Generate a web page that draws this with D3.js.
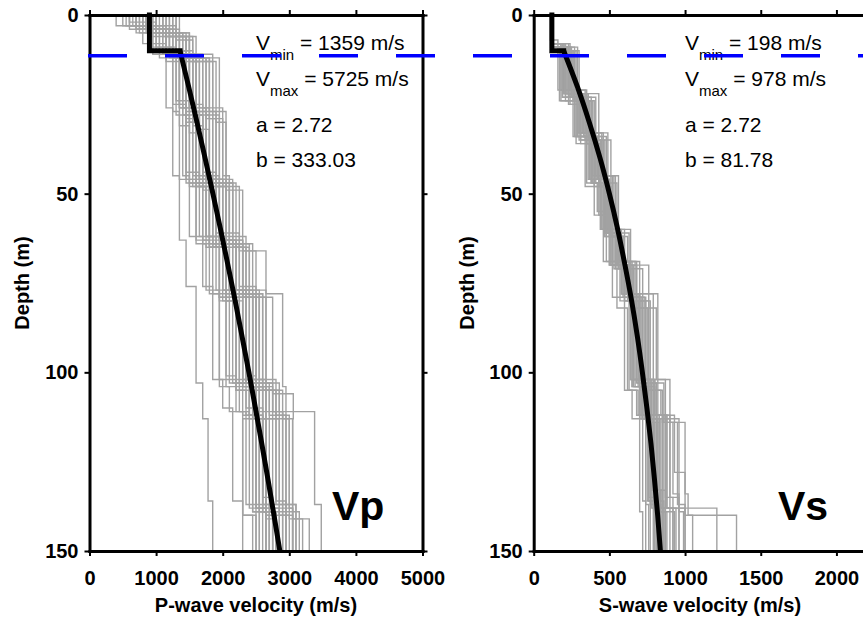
<!DOCTYPE html>
<html><head><meta charset="utf-8">
<script src="https://cdn.jsdelivr.net/npm/d3@7"></script>
<style>
html,body{margin:0;padding:0;background:#fff;}
svg{display:block;font-family:"Liberation Sans",Arial,Helvetica,sans-serif;}
</style></head><body>
<svg id="chart" width="863" height="617"></svg>
<script>
// Tick values
const depthTicks = [0, 50, 100, 150];
const vpTicks = [0, 1000, 2000, 3000, 4000, 5000];
const vsTicks = [0, 500, 1000, 1500, 2000];

// Individual inverted profiles: each layer is [top depth (m), velocity (m/s)]
const vpProfiles = [
  [[0,700],[4,1100],[11,1450],[27,1600],[47,1850],[64,2050],[78,2300],[104,2500],[137,2700]],
  [[0,900],[6,1300],[12,1350],[31,1500],[48,1750],[65,1950],[80,2200],[103,2400],[112,2600],[139,2800]],
  [[0,1100],[5,1400],[11,1700],[26,1800],[46,2000],[63,2200],[77,2450],[105,2650],[140,2950]],
  [[0,500],[3,950],[10,1250],[25,1400],[45,1500],[62,1700],[76,1850],[102,2000],[110,2150],[136,2300]],
  [[0,1300],[7,1550],[13,1900],[30,2050],[49,2300],[66,2500],[79,2750],[106,3060],[113,3050],[141,3200]],
  [[0,800],[4,1200],[12,1550],[28,1700],[47,1950],[64,2150],[78,2400],[104,2600],[138,2850]],
  [[0,600],[2,1000],[9,1300],[24,1500],[33,1650],[48,1800],[65,2050],[80,2300],[104,2550],[112,2450],[139,2650]],
  [[0,1000],[5,1350],[11,1600],[27,1750],[46,2050],[63,2300],[77,2550],[103,2750],[111,2900],[137,3100]],
  [[0,400],[3,800],[8,1150],[26,1250],[45,1350],[63,1450],[76,1600],[103,1700],[113,1780],[136,1850]],
  [[0,1200],[6,1450],[12,1800],[29,2000],[47,2150],[64,2400],[78,2600],[105,2800],[112,2950],[140,3050]],
  [[0,750],[5,1150],[11,1400],[26,1550],[31,1700],[49,1900],[65,2100],[79,2350],[103,2550],[138,2750]],
  [[0,950],[4,1250],[12,1500],[27,1650],[46,1900],[63,2100],[77,2300],[102,2450],[113,2600],[139,2800]],
  [[0,650],[3,1050],[10,1350],[25,1450],[44,1650],[62,1850],[78,2050],[101,2200],[111,2350],[137,2500]],
  [[0,1150],[6,1500],[13,1850],[28,1950],[48,2250],[66,2650],[78,2900],[104,2950],[111,3380],[137,3480]],
  [[0,850],[5,1250],[11,1500],[30,1600],[47,1800],[64,2000],[77,2200],[105,2350],[112,2500],[138,2650]],
  [[0,1050],[4,1350],[12,1650],[26,1850],[46,2100],[65,2350],[79,2500],[103,2700],[112,2850],[139,3050]],
  [[0,550],[3,900],[9,1250],[27,1350],[46,1600],[64,1750],[77,1950],[104,2100],[111,2300],[140,2450]],
  [[0,1250],[5,1500],[12,1750],[29,1900],[48,2100],[63,2300],[78,2550],[102,2800],[113,3000],[141,3300]],
  [[0,900],[4,1200],[10,1450],[26,1600],[32,1750],[47,2000],[64,2200],[77,2400],[104,2650],[137,2900]],
  [[0,700],[5,1100],[11,1400],[28,1550],[45,1750],[62,1950],[79,2150],[103,2400],[112,2500],[138,2600]],
  [[0,1350],[6,1600],[12,1950],[27,2050],[47,2200],[64,2450],[77,2650],[105,2900],[113,3050],[139,3150]],
  [[0,800],[3,1150],[11,1500],[26,1650],[46,1850],[65,2050],[78,2250],[102,2500],[111,2650],[140,2700]],
  [[0,1000],[4,1300],[12,1600],[28,1800],[48,1950],[63,2200],[77,2450],[104,2600],[113,2750],[138,2950]],
  [[0,600],[4,1000],[10,1350],[26,1450],[46,1700],[64,1950],[79,2100],[103,2300],[112,2450],[139,2550]],
  [[0,1100],[5,1450],[12,1700],[27,1900],[47,2050],[62,2350],[78,2550],[105,2750],[111,2900],[140,3000]],
  [[0,750],[4,1150],[11,1450],[30,1600],[48,1800],[65,2000],[77,2350],[102,2600],[113,2800],[137,3100]],
  [[0,1200],[5,1400],[13,1650],[26,1750],[46,2000],[64,2250],[78,2450],[104,2700],[112,2700],[139,2850]],
  [[0,850],[4,1200],[11,1550],[28,1700],[45,1950],[63,2150],[79,2350],[103,2550],[113,2650],[141,2800]],
  [[0,950],[3,1300],[12,1600],[25,1700],[44,1900],[61,2250],[76,2500],[101,2350],[110,2600],[135,2750]],
  [[0,1150],[5,1350],[10,1550],[27,1650],[32,1800],[46,2150],[65,2300],[79,2650],[103,2850],[112,3000],[138,3050]],
  [[0,700],[4,1050],[12,1300],[28,1500],[47,1700],[63,1900],[77,2050],[104,2450],[113,2300],[140,2500]],
  [[0,1300],[6,1550],[11,1850],[26,2000],[45,2100],[64,2300],[78,2450],[102,2650],[111,2800],[136,2950]],
  [[0,850],[4,1150],[13,1450],[29,1550],[48,1750],[62,2000],[80,2200],[105,2400],[113,2550],[139,2700]],
  [[0,1000],[5,1250],[11,1550],[27,1700],[46,1850],[65,2100],[77,2300],[103,2500],[112,2600],[137,2650]],
  [[0,600],[3,950],[11,1350],[26,1450],[47,1600],[63,1800],[78,1950],[102,2250],[111,2400],[138,2550]],
  [[0,1100],[6,1450],[12,1750],[28,1850],[48,2050],[64,2300],[79,2500],[104,2750],[113,2850],[140,2900]],
  [[0,800],[4,1150],[10,1500],[25,1600],[46,1800],[62,2050],[77,2250],[103,2450],[112,2550],[139,2750]],
  [[0,1250],[5,1500],[12,1800],[27,1950],[47,2150],[65,2400],[78,2600],[105,2850],[111,2950],[138,3050]]
];

const vsProfiles = [
  [[0,120],[9,220],[22,330],[34,420],[46,480],[61,560],[70,620],[78,700],[102,760],[112,820],[133,870]],
  [[0,115],[8,180],[24,290],[33,380],[47,450],[60,520],[69,600],[80,660],[104,720],[113,780],[138,820]],
  [[0,125],[10,260],[23,380],[35,460],[45,520],[62,600],[70,680],[78,760],[102,820],[112,900],[135,960]],
  [[0,110],[7,160],[21,260],[34,340],[48,400],[56,460],[69,520],[79,600],[105,650],[113,700],[139,720]],
  [[0,120],[9,240],[25,350],[33,450],[46,500],[61,570],[70,640],[82,720],[103,780],[112,850],[138,1000]],
  [[0,118],[8,200],[22,310],[35,400],[47,470],[60,540],[71,610],[78,680],[102,740],[114,800],[133,850]],
  [[0,122],[10,280],[24,400],[34,480],[45,540],[62,620],[69,700],[80,760],[105,840],[112,930],[128,1000],[140,1050]],
  [[0,115],[9,190],[23,280],[36,360],[46,430],[56,500],[70,580],[78,640],[102,700],[113,760],[136,800]],
  [[0,120],[8,230],[21,340],[33,430],[47,490],[61,560],[69,650],[79,730],[104,800],[112,880],[138,1210]],
  [[0,125],[10,300],[22,430],[35,510],[45,560],[60,640],[70,760],[78,820],[102,900],[114,1000],[134,1020],[140,1340]],
  [[0,112],[9,170],[24,270],[34,350],[47,420],[55,480],[69,550],[82,620],[105,680],[112,740],[137,760]],
  [[0,120],[8,210],[23,320],[33,410],[45,470],[62,550],[70,620],[78,700],[103,760],[113,820],[139,880]],
  [[0,118],[9,250],[22,360],[36,440],[48,510],[60,580],[71,660],[80,740],[102,800],[112,870],[135,920]],
  [[0,124],[10,230],[25,330],[34,420],[46,490],[61,560],[69,630],[78,690],[104,750],[113,810],[136,860]],
  [[0,116],[8,190],[21,300],[33,390],[47,460],[56,520],[70,590],[79,660],[102,720],[112,790],[138,830]],
  [[0,121],[9,270],[24,390],[35,470],[45,530],[60,600],[69,680],[80,770],[105,850],[114,950],[137,1000]],
  [[0,119],[10,210],[22,310],[34,400],[48,470],[62,540],[70,610],[78,680],[103,730],[112,780],[133,840]],
  [[0,117],[8,240],[23,350],[36,430],[46,500],[61,570],[71,640],[79,710],[102,780],[113,840],[138,900]],
  [[0,123],[9,200],[22,300],[33,380],[47,440],[60,510],[70,580],[78,650],[104,710],[112,770],[137,810]],
  [[0,120],[10,260],[24,370],[35,450],[45,510],[62,590],[69,670],[82,810],[102,870],[113,960],[139,990]],
  [[0,114],[8,180],[21,280],[34,370],[46,440],[55,500],[70,570],[80,630],[105,690],[112,720],[136,740]],
  [[0,126],[9,290],[23,410],[33,490],[47,550],[61,630],[71,720],[78,790],[103,860],[114,920],[134,960]],
  [[0,120],[9,220],[22,340],[35,420],[46,480],[60,550],[70,630],[79,700],[102,760],[112,830],[138,870]],
  [[0,118],[8,210],[24,320],[33,400],[48,470],[61,540],[69,600],[80,670],[104,730],[113,790],[137,820]],
  [[0,122],[10,250],[23,360],[34,450],[46,500],[62,580],[70,650],[78,720],[103,790],[112,860],[139,930]],
  [[0,116],[9,200],[21,310],[36,390],[45,460],[60,530],[71,600],[79,660],[102,710],[113,770],[136,790]],
  [[0,121],[9,230],[23,330],[34,410],[47,480],[61,550],[70,620],[80,690],[103,750],[112,800],[137,840]],
  [[0,117],[8,200],[22,300],[35,380],[46,450],[60,520],[69,590],[78,650],[104,700],[113,760],[135,800]],
  [[0,124],[10,270],[24,380],[33,460],[45,520],[62,590],[70,660],[79,740],[102,800],[112,880],[138,920]],
  [[0,119],[9,240],[21,350],[36,430],[48,490],[60,560],[71,630],[80,700],[105,770],[114,830],[139,860]],
  [[0,115],[8,190],[23,290],[34,370],[46,440],[56,510],[70,580],[78,640],[102,700],[112,750],[136,770]],
  [[0,122],[10,250],[22,360],[35,440],[47,500],[61,570],[69,640],[82,750],[103,810],[113,900],[138,940]]
];

// Best-fit velocity model: surface layer, then gradient from Vmin toward Vmax
const surfaceDepth = [0, 10, 10];
const vpSurface = [900, 900, 1359];
const vsSurface = [120, 120, 198];
const modelDepth = [10, 20, 30, 40, 50, 60, 70, 80, 90, 100, 110, 120, 130, 140, 150];
const vpModel = [1359, 1488, 1614, 1735, 1853, 1968, 2079, 2187, 2291, 2393, 2491, 2587, 2680, 2770, 2858];
const vsModel = [198, 288, 367, 438, 500, 555, 603, 647, 685, 718, 748, 775, 798, 819, 837];

// Fitted parameters printed in each panel
const vpParams = { vmin: "1359", vmax: "5725", a: "2.72", b: "333.03" };
const vsParams = { vmin: "198", vmax: "978", a: "2.72", b: "81.78" };
const interfaceDepth = 11.4;

const svg = d3.select("#chart");
const W = 863;
const plotW = 333, plotTop = 15, plotBottom = 551;

const y = d3.scaleLinear().domain([0, 150]).range([plotTop, plotBottom]);

const panels = [
  { left: 89.5, domain: [0, 5000], ticks: vpTicks, profiles: vpProfiles,
    surface: vpSurface, model: vpModel, params: vpParams,
    title: "P-wave velocity (m/s)", titleX: 256, ylabX: 29, tag: "Vp", tagX: 332, textX: 256 },
  { left: 533.7, domain: [0, 2200], ticks: vsTicks, profiles: vsProfiles,
    surface: vsSurface, model: vsModel, params: vsParams,
    title: "S-wave velocity (m/s)", titleX: 700, ylabX: 474, tag: "Vs", tagX: 778, textX: 685 }
];

panels.forEach(p => {
  const x = d3.scaleLinear().domain(p.domain).range([p.left, p.left + plotW]);
  const g = svg.append("g");

  // step profiles
  const stepLine = d3.line().x(d => x(d[1])).y(d => y(d[0]));
  p.profiles.forEach(layers => {
    const pts = [];
    layers.forEach((l, i) => {
      const bottom = i < layers.length - 1 ? layers[i + 1][0] : 150;
      pts.push([l[0], l[1]], [bottom, l[1]]);
    });
    g.append("path").attr("d", stepLine(pts))
      .attr("fill", "none").attr("stroke", "#a2a2a2").attr("stroke-width", 1.4);
  });

  // model
  const surf = surfaceDepth.map((d, i) => [d, p.surface[i]]);
  g.append("path").attr("d", d3.line().x(d => x(d[1])).y(d => y(d[0]))(surf))
    .attr("fill", "none").attr("stroke", "#000").attr("stroke-width", 5)
    .attr("stroke-linejoin", "miter").attr("stroke-linecap", "square");
  const curve = modelDepth.map((d, i) => [d, p.model[i]]);
  g.append("path")
    .attr("d", d3.line().x(d => x(d[1])).y(d => y(d[0])).curve(d3.curveMonotoneY)(curve))
    .attr("fill", "none").attr("stroke", "#000").attr("stroke-width", 5);

  // frame and ticks
  const styleAxis = sel => {
    sel.select(".domain").attr("stroke", "#000").attr("stroke-width", 3).attr("stroke-linecap", "square");
    sel.selectAll(".tick line").attr("stroke", "#000").attr("stroke-width", 2);
    sel.selectAll(".tick text").attr("fill", "#000")
      .style("font-size", "20px").style("font-weight", "bold")
      .style("font-family", '"Liberation Sans", Arial, sans-serif');
  };
  const fmt = d3.format("d");
  g.append("g").attr("transform", `translate(0,${plotBottom})`)
    .call(d3.axisBottom(x).tickValues(p.ticks).tickFormat(fmt).tickSize(5).tickSizeOuter(0).tickPadding(15))
    .call(styleAxis);
  g.append("g").attr("transform", `translate(0,${plotTop})`)
    .call(d3.axisTop(x).tickValues(p.ticks).tickSize(5).tickSizeOuter(0).tickFormat(""))
    .call(styleAxis);
  g.append("g").attr("transform", `translate(${p.left},0)`)
    .call(d3.axisLeft(y).tickValues(depthTicks).tickFormat(fmt).tickSize(5).tickSizeOuter(0).tickPadding(6))
    .call(styleAxis);
  g.append("g").attr("transform", `translate(${p.left + plotW},0)`)
    .call(d3.axisRight(y).tickValues(depthTicks).tickSize(5).tickSizeOuter(0).tickFormat(""))
    .call(styleAxis);

  // axis titles
  g.append("text").attr("x", p.titleX).attr("y", 612).attr("text-anchor", "middle")
    .style("font-size", "20px").style("font-weight", "bold").text(p.title);
  g.append("text").attr("transform", `translate(${p.ylabX},${(plotTop + plotBottom) / 2}) rotate(-90)`)
    .attr("text-anchor", "middle").style("font-size", "20px").style("font-weight", "bold")
    .text("Depth (m)");

  // panel tag
  g.append("text").attr("x", p.tagX).attr("y", 520)
    .style("font-size", "41px").style("font-weight", "bold").text(p.tag);

  // parameter annotations
  const ann = g.append("g").style("font-size", "21px").style("white-space", "pre");
  const sub = (yy, name, value) => {
    const t = ann.append("text").attr("x", p.textX).attr("y", yy);
    t.append("tspan").text("V");
    t.append("tspan").attr("dy", 10).style("font-size", "15px").text(name);
    t.append("tspan").attr("dy", -10).text(" = " + value + " m/s");
  };
  sub(50, "min", p.params.vmin);
  sub(86, "max", p.params.vmax);
  ann.append("text").attr("x", p.textX).attr("y", 131.5).text("a = " + p.params.a);
  ann.append("text").attr("x", p.textX).attr("y", 166.5).text("b = " + p.params.b);
});

// interface marker across both panels
svg.append("line")
  .attr("x1", 88).attr("x2", W)
  .attr("y1", y(interfaceDepth)).attr("y2", y(interfaceDepth))
  .attr("stroke", "#0000ff").attr("stroke-width", 3.5)
  .attr("stroke-dasharray", "39,38");
</script>
</body></html>
